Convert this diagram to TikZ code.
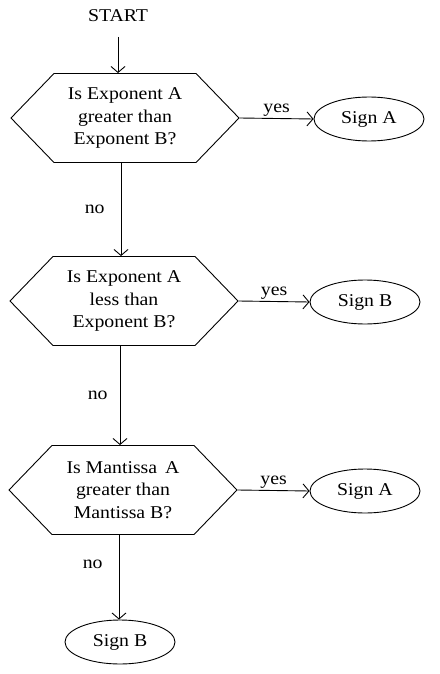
\documentclass[tikz,border=0pt]{standalone}
\usepackage{fontspec}
\setmainfont[FakeStretch=1.1]{Liberation Serif}
\usetikzlibrary{shapes.symbols,shapes.geometric,arrows.meta}
\begin{document}
\begin{tikzpicture}[x=1pt,y=-1pt,line width=0.9pt,
  every node/.style={font=\fontsize{18}{22.5}\selectfont},
  hexa/.style={draw,shape=signal,signal to=east and west,signal pointer angle=92,
     minimum width=228pt,minimum height=89pt,inner sep=0pt,align=center},
  term/.style={draw,ellipse,minimum width=110pt,minimum height=44pt,inner sep=0pt},
  arr/.style={-{Straight Barb[length=6pt,width=14pt]}},
  lbl/.style={inner sep=2pt}]
\useasboundingbox (0,0) rectangle (439,674);
\node (start) at (118,16) {START};
\node[hexa] (h1) at (125,118) {Is Exponent A\\greater than\\Exponent B?};
\node[hexa] (h2) at (124,301) {Is Exponent A\\less than\\Exponent B?};
\node[hexa] (h3) at (123,490) {Is Mantissa\, A\\greater than\\Mantissa B?};
\node[term] (s1) at (369,119) {Sign A};
\node[term] (s2) at (365,302) {Sign B};
\node[term] (s3) at (365,491) {Sign A};
\node[term] (s4) at (120,642) {Sign B};
\coordinate (c0) at (118,37);
\draw[arr] (c0) -- (c0 |- h1.north);
\draw[arr] (h1.east) -- node[lbl,above] {yes} (s1.west);
\draw[arr] (h2.east) -- node[lbl,above] {yes} (s2.west);
\draw[arr] (h3.east) -- node[lbl,above] {yes} (s3.west);
\coordinate (v1) at (121,0);
\coordinate (v2) at (120,0);
\coordinate (v3) at (119,0);
\draw[arr] (v1 |- h1.south) -- node[lbl,left=14pt] {no} (v1 |- h2.north);
\draw[arr] (v2 |- h2.south) -- node[lbl,left=10pt] {no} (v2 |- h3.north);
\draw[arr] (v3 |- h3.south) -- node[lbl,left=14pt,pos=0.35] {no} (v3 |- s4.north);
\end{tikzpicture}
\end{document}
